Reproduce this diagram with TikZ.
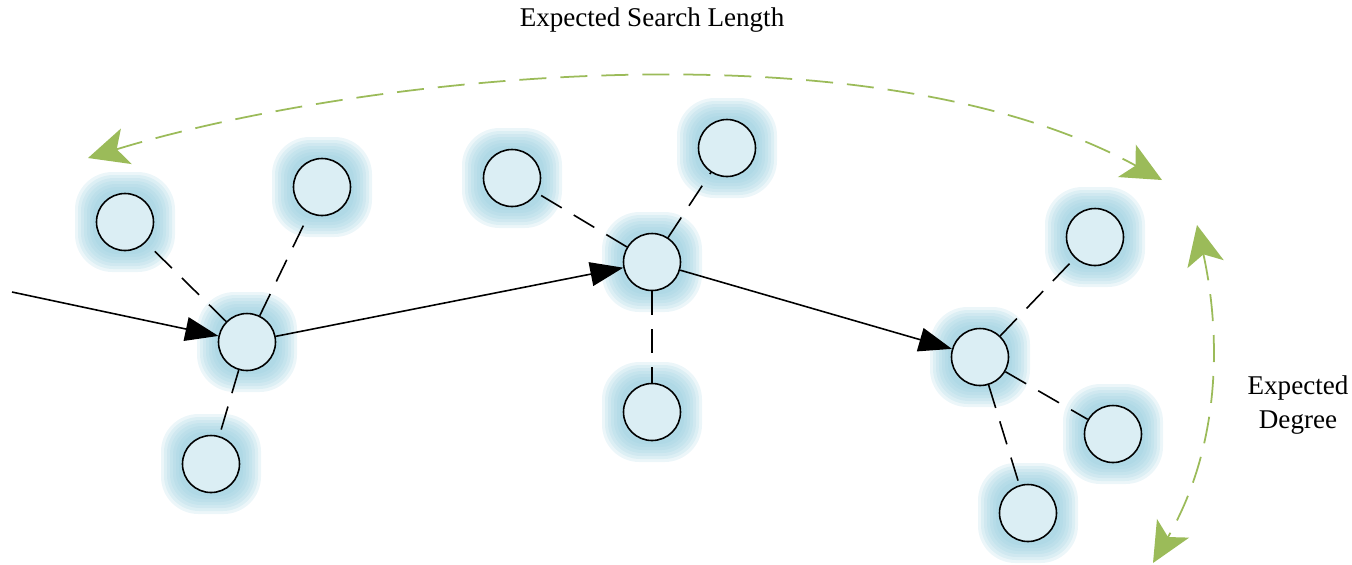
\documentclass[tikz,border=0pt]{standalone}
\usepackage{fontspec}
\setmainfont{Liberation Serif}
\usetikzlibrary{arrows.meta}
\definecolor{peerfill}{RGB}{219,238,244}
\definecolor{glowblue}{RGB}{150,205,222}
\definecolor{spangreen}{RGB}{155,187,89}
\tikzstyle{peer} = [draw, circle, fill=peerfill, inner sep=0mm, minimum size=5.7mm, line width=.45pt]
\tikzstyle{glow} = [fill=glowblue, fill opacity=.18, draw=none]
\tikzstyle{link} = [dash pattern=on 2.4mm off 1.4mm, line width=.45pt]
\tikzstyle{hop} = [-{Triangle[length=3.3mm, width=2.4mm]}, line width=.45pt]
\tikzstyle{span} = [draw=spangreen, line width=.5pt, dash pattern=on 2.7mm off 1.4mm,
    {Stealth[length=4mm, width=3.7mm, inset=1mm]}-{Stealth[length=4mm, width=3.7mm, inset=1mm]}]
\tikzstyle{caption} = [draw=none, inner sep=0mm, font=\fontsize{7.7}{9.4}\selectfont]

\begin{document}
\begin{tikzpicture}[x=.1mm, y=-.1mm]
    \useasboundingbox (0,0) rectangle (1352,564);

    % peers with their halo
    \foreach \n/\x/\y in {h1/247/342, h2/652/262, h3/980/357,
                          s1/125/222, s2/322/187, s3/211/464,
                          s4/512/178, s5/727/148, s6/652/412,
                          s7/1095/237, s8/1113/434, s9/1028/513} {
        \foreach \r in {5.0, 4.7, 4.4, 4.1, 3.8, 3.5, 3.2}
        \fill[glow, rounded corners=.75*\r mm] (\x,\y) ++(-\r mm,-\r mm) rectangle ++(2*\r mm, 2*\r mm);
        \node[peer] (\n) at (\x,\y) {};
    }

    \foreach \f/\t in {h1/s1, h1/s2, h1/s3, h2/s4, h2/s5, h2/s6, h3/s7, h3/s8, h3/s9}
    \draw[link] (\f) -- (\t);

    \coordinate (entry) at (12,292);
    \draw[hop] (entry) -- (h1);
    \draw[hop] (h1) -- (h2);
    \draw[hop] (h2) -- (h3);

    % search length and degree spans
    \coordinate (lenL) at (88,158);
    \coordinate (lenR) at (1162,180);
    \coordinate (degT) at (1197,225);
    \coordinate (degB) at (1153,563);
    \draw[span] (lenL) .. controls (360,75) and (870,20) .. (lenR);
    \draw[span] (degT) .. controls (1220,330) and (1223,442) .. (degB);

    \node[caption] (searchlen) at (652,20) {Expected Search Length};
    \node[caption, align=center] (degree) at (1298,405) {Expected\\Degree};
\end{tikzpicture}
\end{document}
